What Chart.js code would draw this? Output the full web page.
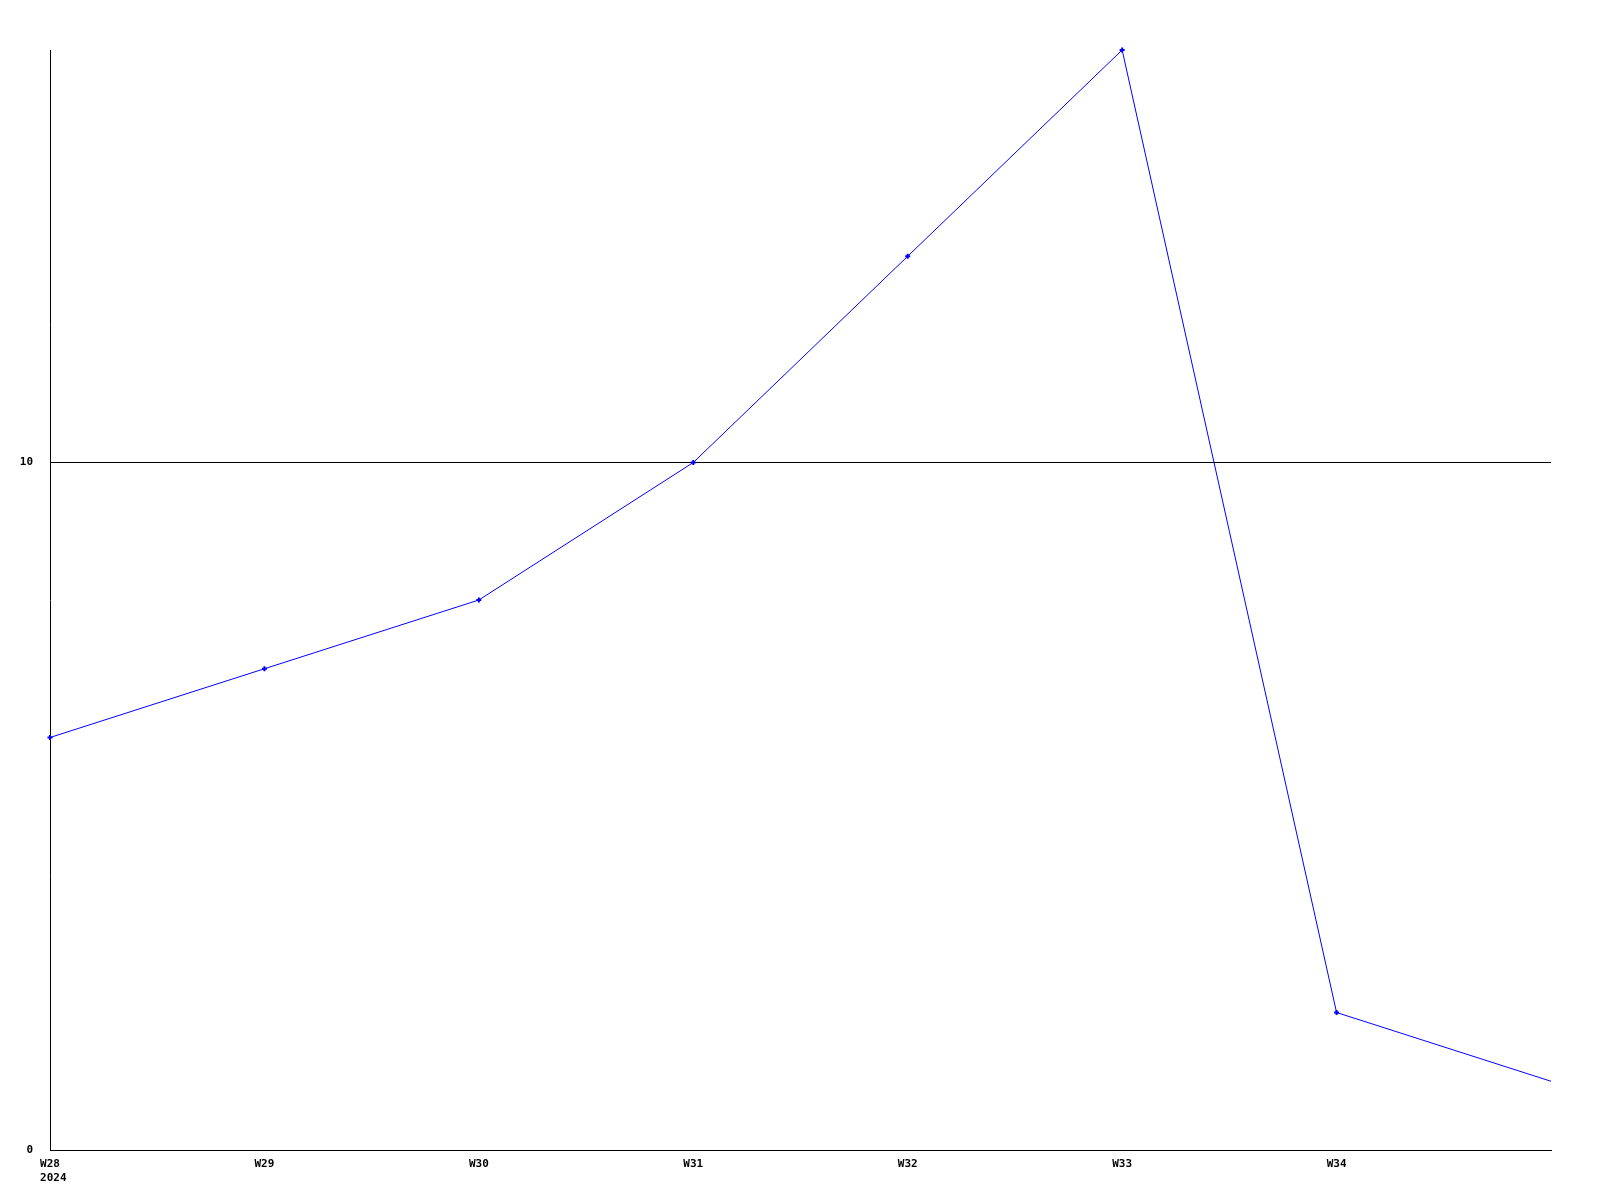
<!DOCTYPE html>
<html>
<head>
<meta charset="utf-8">
<script src="https://cdn.jsdelivr.net/npm/chart.js@4/dist/chart.umd.min.js"></script>
<style>
  html, body { margin: 0; padding: 0; background: #fff; }
  #wrap { width: 1600px; height: 1200px; }
</style>
</head>
<body>
<div id="wrap"><canvas id="weekly" width="1600" height="1200"></canvas></div>
<script>
// week labels (last one sits on the right edge, not labelled)
const weeks = [['W28', ' 2024'], 'W29', 'W30', 'W31', 'W32', 'W33', 'W34', 'W35'];
const values = [6, 7, 8, 10, 13, 16, 2, 1];
const yTicks = [0, 10];

const FONT = { family: '"DejaVu Sans Mono", monospace', size: 11, weight: 'bold' };

new Chart(document.getElementById('weekly').getContext('2d'), {
    type: 'line',
    data: {
        labels: weeks,
        datasets: [{
            data: values,
            borderColor: '#0000ff',
            backgroundColor: '#0000ff',
            borderWidth: 1,
            tension: 0,
            fill: false,
            clip: false,
            // no marker on the right-edge point, as in the original
            pointRadius: values.map((v, i) => i === values.length - 1 ? 0 : 2.5),
            pointStyle: 'cross',
            pointBorderWidth: 2
        }]
    },
    options: {
        responsive: false,
        animation: false,
        layout: { padding: { top: 50, right: 49, left: 0, bottom: 0 } },
        plugins: { legend: { display: false }, tooltip: { enabled: false } },
        scales: {
            x: {
                offset: false,
                grid: { display: false, drawTicks: false },
                border: { color: '#000', width: 1 },
                ticks: {
                    color: '#000',
                    font: FONT,
                    padding: 8,
                    maxRotation: 0,
                    autoSkip: false,
                    callback: function (v, i) {
                        return i === weeks.length - 1 ? '' : weeks[i];
                    }
                },
                afterFit: function (s) { s.height = 50; }
            },
            y: {
                min: 0,
                max: 16,
                afterBuildTicks: function (s) {
                    s.ticks = yTicks.map(v => ({ value: v }));
                },
                grid: { color: '#000', lineWidth: 1, drawTicks: false },
                border: { color: '#000', width: 1 },
                ticks: { color: '#000', font: FONT, padding: 17 },
                afterFit: function (s) { s.width = 50; }
            }
        }
    }
});
</script>
</body>
</html>
